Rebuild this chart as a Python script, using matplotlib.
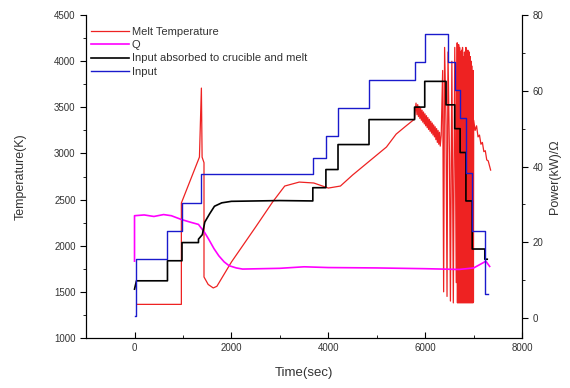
import numpy as np
import matplotlib.pyplot as plt
from matplotlib.ticker import MultipleLocator

# Melt temperature (left axis, K)
t_melt = [50, 967, 967, 1340, 1380, 1395, 1434, 1434, 1520, 1625, 1700, 2000, 2500, 2850,
          3100, 3400, 3700, 4000, 4250, 4500, 4700, 5000, 5200, 5400, 5600, 5780, 5810,
          5830, 5845, 5860, 5875, 5890, 5905, 5920, 5935, 5950, 5965, 5980, 5995, 6010,
          6025, 6040, 6055, 6070, 6085, 6100, 6115, 6130, 6145, 6160, 6175, 6190, 6205,
          6220, 6235, 6250, 6265, 6280, 6295, 6310, 6330,
          6360, 6380, 6400, 6430, 6450, 6470, 6500, 6520, 6550, 6580, 6610, 6640, 6660,
          6665, 6670, 6675, 6680, 6685, 6690, 6695, 6700, 6705, 6710, 6715, 6720, 6725,
          6730, 6735, 6740, 6745, 6750, 6755, 6760, 6765, 6770, 6775, 6780, 6785, 6790,
          6795, 6800, 6805, 6810, 6815, 6820, 6825, 6830, 6835, 6840, 6845, 6850, 6855,
          6860, 6865, 6870, 6875, 6880, 6885, 6890, 6895, 6900, 6905, 6910, 6915, 6920,
          6925, 6930, 6935, 6940, 6945, 6950, 6955, 6960, 6965, 6970, 6975, 6980, 6985,
          6990, 6995, 7000,
          7030, 7060, 7090, 7120, 7150, 7180, 7210, 7240, 7270, 7300, 7350]
T_melt = [1364, 1364, 2463, 2961, 3709, 2960, 2900, 1661, 1580, 1542, 1560, 1823, 2203, 2474,
          2647, 2690, 2680, 2625, 2647, 2766, 2853, 2983, 3070, 3210, 3297, 3373, 3546,
          3420, 3530, 3400, 3510, 3380, 3490, 3360, 3470, 3340, 3450, 3320, 3430, 3300,
          3410, 3280, 3390, 3260, 3370, 3240, 3350, 3220, 3330, 3200, 3310, 3180, 3290,
          3150, 3270, 3120, 3250, 3100, 3230, 3080, 3200,
          3900, 1500, 4150, 3300, 1450, 4100, 3000, 1400, 4000, 1380, 4150, 1600, 4200,
          1380, 4100, 1400, 4050, 1380, 4180, 1420, 3950, 1380, 4150, 1400, 4000, 1380,
          4100, 1390, 3900, 1380, 4120, 1400, 4000, 1380, 4150, 1400, 3800, 1380, 4050,
          1390, 3950, 1380, 4100, 1400, 3700, 1380, 4000, 1390, 4150, 1380, 3900, 1400,
          4050, 1380, 3950, 1390, 4120, 1380, 3850, 1400, 4000, 1380, 4100, 1390, 3900,
          1380, 4050, 1400, 3800, 1380, 4000, 1390, 3950, 1380, 3850, 1400, 3700, 1380,
          3900, 1390, 3360,
          3250, 3300, 3180, 3200, 3100, 3120, 3020, 3030, 2930, 2920, 2820]

# Q (right axis)
t_q = [0, 0, 200, 400, 600, 760, 967, 1150, 1320, 1450, 1530, 1640, 1740, 1850, 1950,
       2100, 2230, 3000, 3500, 4000, 5000, 6000, 6700, 7000, 7200, 7250, 7330]
P_q = [15, 27, 27.2, 26.8, 27.3, 27, 26, 25.3, 24.7, 22.5, 20.8, 18.3, 16.4, 14.8, 13.8,
       13.2, 12.9, 13.1, 13.5, 13.3, 13.2, 13.0, 12.8, 13.2, 14.6, 15.0, 13.6]

# Input absorbed to crucible and melt (right axis)
t_abs = [0, 40, 680, 680, 980, 980, 1320, 1320, 1400, 1450, 1550, 1650, 1800, 2000, 3000,
         3680, 3680, 3950, 3950, 4200, 4200, 4840, 4840, 5780, 5780, 5990, 5990, 6430,
         6430, 6610, 6610, 6720, 6720, 6840, 6840, 6970, 6970, 7230, 7230, 7280]
P_abs = [7.6, 9.8, 9.8, 15.1, 15.1, 19.9, 19.9, 20.8, 22.0, 25.3, 27.5, 29.5, 30.4, 30.8, 31.0,
         30.9, 34.4, 34.4, 39.2, 39.2, 45.8, 45.8, 52.4, 52.4, 55.7, 55.7, 62.5, 62.5,
         56.3, 56.3, 50.0, 50.0, 43.7, 43.7, 30.9, 30.9, 18.2, 18.2, 15.5, 15.5]

# Input (right axis)
t_in = [0, 40, 680, 980, 1370, 3680, 3950, 4200, 4840, 5780, 5990, 6460, 6610, 6720, 6840,
        6970, 7240, 7290]
P_in = [0.6, 15.5, 23.0, 30.4, 37.9, 42.3, 48.0, 55.4, 62.9, 67.7, 75.0, 67.5, 60.3, 52.9,
        38.4, 23.0, 6.3, 6.3]

plt.rcParams['font.family'] = ['Liberation Sans', 'DejaVu Sans']
txt = '#333333'

fig = plt.figure(figsize=(5.7, 3.88), dpi=100)
ax = fig.add_axes([0.151, 0.129, 0.765, 0.832])
ax2 = ax.twinx()

l1, = ax.plot(t_melt, T_melt, color='#ee2222', lw=0.9)
l2, = ax2.plot(t_q, P_q, color='#ff00ff', lw=1.2)
l3, = ax2.plot(t_abs, P_abs, color='black', lw=1.2)
l4, = ax2.step(t_in, P_in, where='post', color='#1a1acc', lw=1.0)

ax.set_xlim(-1000, 8000)
ax.set_ylim(1000, 4500)
ax2.set_ylim(-5.3, 80)

ax.xaxis.set_major_locator(MultipleLocator(2000))
ax.xaxis.set_minor_locator(MultipleLocator(1000))
ax.yaxis.set_major_locator(MultipleLocator(500))
ax.yaxis.set_minor_locator(MultipleLocator(250))
ax2.yaxis.set_major_locator(MultipleLocator(20))
ax2.yaxis.set_minor_locator(MultipleLocator(10))

ax.tick_params(axis='y', which='both', direction='out', labelsize=7, labelcolor=txt)
ax.tick_params(axis='y', which='major', length=4)
ax.tick_params(axis='y', which='minor', length=2)
ax.tick_params(axis='x', which='both', direction='in', labelsize=7, labelcolor=txt)
ax.tick_params(axis='x', which='major', length=4)
ax.tick_params(axis='x', which='minor', length=2)
ax2.tick_params(axis='y', which='both', direction='out', labelsize=7, labelcolor=txt)
ax2.tick_params(axis='y', which='major', length=4)
ax2.tick_params(axis='y', which='minor', length=2)

for a in (ax, ax2):
    a.spines['top'].set_visible(False)

ax.set_xlabel('Time(sec)', fontsize=9.5, color=txt, labelpad=10)
ax.set_ylabel('Temperature(K)', fontsize=9, color=txt, labelpad=20)
ax2.set_ylabel('Power(kW)/Ω', fontsize=9, color=txt)

leg = ax2.legend([l1, l2, l3, l4],
                 ['Melt Temperature', 'Q', 'Input absorbed to crucible and melt', 'Input'],
                 loc='upper left', bbox_to_anchor=(-0.012, 0.995), frameon=False,
                 fontsize=8, handlelength=3.4, labelspacing=0.3, handletextpad=0.3)
for t in leg.get_texts():
    t.set_color(txt)

fig.savefig('out.png', dpi=100)
